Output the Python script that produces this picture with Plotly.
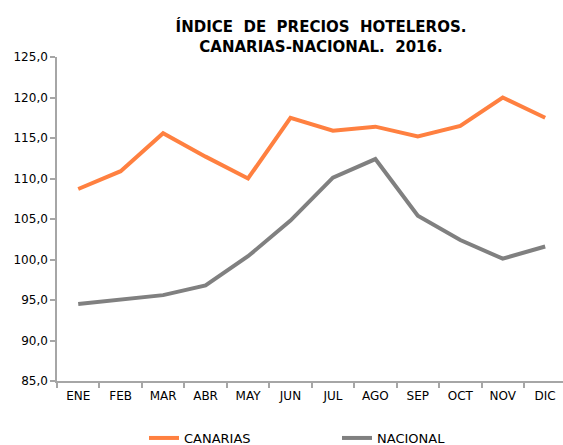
import plotly.graph_objects as go

months = ["ENE", "FEB", "MAR", "ABR", "MAY", "JUN", "JUL", "AGO", "SEP", "OCT", "NOV", "DIC"]
canarias = [108.7, 110.9, 115.6, 112.7, 110.0, 117.5, 115.9, 116.4, 115.2, 116.5, 120.0, 117.5]
nacional = [94.5, 95.0, 95.6, 96.8, 100.4, 104.8, 110.1, 112.4, 105.4, 102.4, 100.1, 101.6]
y_ticks = [85, 90, 95, 100, 105, 110, 115, 120, 125]

FONT = "DejaVu Sans, Verdana, sans-serif"
AXIS_COLOR = "#A6A6A6"

fig = go.Figure()
fig.add_trace(go.Scatter(x=months, y=canarias, mode="lines", name="CANARIAS",
                         line=dict(color="#FF8040", width=4)))
fig.add_trace(go.Scatter(x=months, y=nacional, mode="lines", name="NACIONAL",
                         line=dict(color="#808080", width=4)))

fig.update_layout(
    width=563, height=445,
    margin=dict(l=57, r=0, t=57, b=64, autoexpand=False),
    paper_bgcolor="white", plot_bgcolor="white",
    separators=",.",
    font=dict(family=FONT, size=12, color="#000000"),
    title=dict(
        text="<b>ÍNDICE  DE  PRECIOS  HOTELEROS.<br>CANARIAS-NACIONAL.  2016.</b>",
        x=321 / 563, xanchor="center", y=1 - 32 / 445, yanchor="middle",
        font=dict(family=FONT, size=15, color="#000000"),
    ),
    xaxis=dict(
        type="category", range=[-0.5, 11.42], automargin=False,
        showgrid=False, zeroline=False,
        showline=True, linecolor=AXIS_COLOR, linewidth=1.5,
        ticks="outside", tickson="boundaries", ticklen=5, tickcolor=AXIS_COLOR, tickwidth=1.5,
        ticklabelstandoff=3,
        tickfont=dict(family=FONT, size=12, color="#000000"),
    ),
    yaxis=dict(
        range=[85, 125], tickvals=y_ticks, tickformat=".1f", automargin=False,
        showgrid=False, zeroline=False,
        showline=True, linecolor=AXIS_COLOR, linewidth=1.5,
        ticks="outside", ticklen=5, tickcolor=AXIS_COLOR, tickwidth=1.5,
        tickfont=dict(family=FONT, size=12, color="#000000"),
    ),
    legend=dict(
        orientation="h", x=(144 - 57) / 506, xanchor="left",
        y=(381 - 438) / 324, yanchor="middle",
        entrywidth=148, entrywidthmode="pixels",
        font=dict(family=FONT, size=13, color="#000000"),
        bgcolor="rgba(0,0,0,0)",
    ),
    showlegend=True,
)

fig.write_html("out.html", config={"displayModeBar": False},
               post_script="document.body.style.margin='0';")
